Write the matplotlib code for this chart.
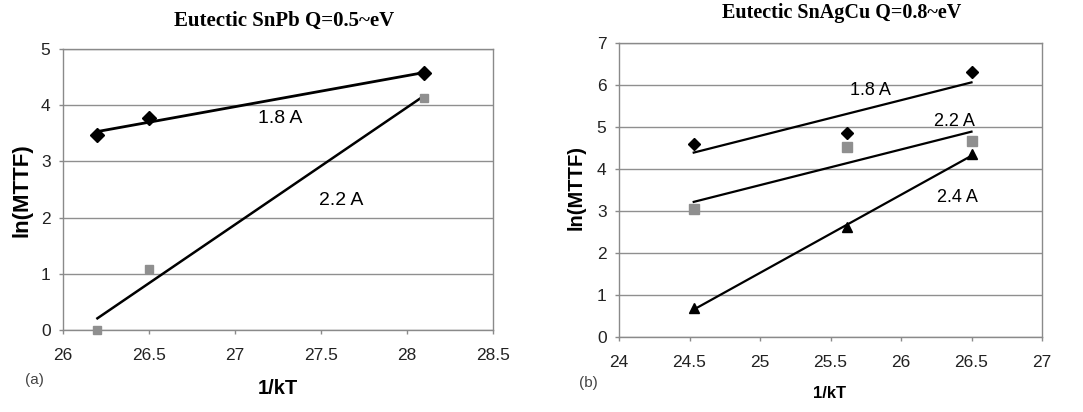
import numpy as np
import matplotlib
matplotlib.use("Agg")
import matplotlib.pyplot as plt

# ---- data ----
snpb_x = [26.2, 26.5, 28.1]
snpb_18 = [3.47, 3.77, 4.57]
snpb_22 = [0.0, 1.08, 4.13]

sac_x = [24.53, 25.62, 26.5]
sac_18 = [4.60, 4.87, 6.32]
sac_22 = [3.05, 4.54, 4.68]
sac_24 = [0.69, 2.62, 4.36]

left_xticks = [26, 26.5, 27, 27.5, 28, 28.5]
left_xticklabels = ["26", "26.5", "27", "27.5", "28", "28.5"]
left_yticks = [0, 1, 2, 3, 4, 5]
right_xticks = [24, 24.5, 25, 25.5, 26, 26.5, 27]
right_xticklabels = ["24", "24.5", "25", "25.5", "26", "26.5", "27"]
right_yticks = [0, 1, 2, 3, 4, 5, 6, 7]

title_a = "Eutectic SnPb Q=0.5~eV"
title_b = "Eutectic SnAgCu Q=0.8~eV"

SANS = "Liberation Sans"
SERIF = "Liberation Serif"
GRAY = "#8f8f8f"
SPINE = "#8a8a8a"

fig = plt.figure(figsize=(10.83, 4.12), dpi=100)
W, H = 1083, 412


def style(ax, xlim, ylim, xt, xtl, yt, fs):
    ax.set_xlim(*xlim)
    ax.set_ylim(*ylim)
    ax.set_xticks(xt)
    ax.set_xticklabels(xtl)
    ax.set_yticks(yt)
    ax.set_yticklabels([str(v) for v in yt])
    for s in ax.spines.values():
        s.set_color(SPINE)
        s.set_linewidth(1.0)
    ax.yaxis.grid(True, color=GRAY, linewidth=1.0)
    ax.set_axisbelow(True)
    ax.tick_params(direction="out", length=3, color=SPINE, width=1.0,
                   labelsize=fs, labelcolor="#222222")
    ax.tick_params(axis="x", pad=10)
    ax.tick_params(axis="y", pad=6)
    for lab in ax.get_xticklabels() + ax.get_yticklabels():
        lab.set_family(SANS)


def fit_line(ax, x, y, lw):
    p = np.polyfit(x, y, 1)
    xs = np.array([x[0], x[-1]])
    ax.plot(xs, np.polyval(p, xs), color="black", lw=lw, zorder=3)


# ---- left panel ----
axa = fig.add_axes([63 / W, 1 - 330 / H, (493 - 63) / W, (330 - 49) / H])
style(axa, (26, 28.5), (0, 5), left_xticks, left_xticklabels, left_yticks, 12.5)
fit_line(axa, snpb_x, snpb_18, 2.0)
fit_line(axa, snpb_x, snpb_22, 1.8)
axa.plot(snpb_x, snpb_18, "D", color="black", ms=7, zorder=4, clip_on=False)
axa.plot(snpb_x, snpb_22, "s", color=GRAY, ms=6, zorder=4, clip_on=False)
axa.text(27.26, 3.77, "1.8 A", ha="center", va="center", fontsize=14, family=SANS)
axa.text(27.62, 2.31, "2.2 A", ha="center", va="center", fontsize=14, family=SANS)

# ---- right panel ----
axb = fig.add_axes([619 / W, 1 - 337.3 / H, (1042 - 619) / W, (337.3 - 43.3) / H])
style(axb, (24, 27), (0, 7), right_xticks, right_xticklabels, right_yticks, 12.5)
fit_line(axb, sac_x, sac_18, 1.6)
fit_line(axb, sac_x, sac_22, 1.6)
fit_line(axb, sac_x, sac_24, 1.6)
axb.plot(sac_x, sac_18, "D", color="black", ms=6, zorder=4)
axb.plot(sac_x, sac_22, "s", color=GRAY, ms=7, zorder=4)
axb.plot(sac_x, sac_24, "^", color="black", ms=7, zorder=4)
axb.text(25.78, 5.87, "1.8 A", ha="center", va="center", fontsize=13, family=SANS)
axb.text(26.38, 5.13, "2.2 A", ha="center", va="center", fontsize=13, family=SANS)
axb.text(26.40, 3.33, "2.4 A", ha="center", va="center", fontsize=13, family=SANS)

# ---- titles, axis labels, panel tags ----
def ftext(x, y, s, **kw):
    fig.text(x / W, 1 - y / H, s, **kw)

ftext(284, 21, title_a, ha="center", va="center", fontsize=15,
      fontweight="bold", family=SERIF)
ftext(842, 13, title_b, ha="center", va="center", fontsize=14.5,
      fontweight="bold", family=SERIF)
ftext(278, 388, "1/kT", ha="center", va="center", fontsize=14.5,
      fontweight="bold", family=SANS)
ftext(829, 393, "1/kT", ha="center", va="center", fontsize=12,
      fontweight="bold", family=SANS)
ftext(22, 190, "ln(MTTF)", ha="center", va="center", fontsize=16,
      fontweight="bold", family=SANS, rotation=90)
ftext(576, 188, "ln(MTTF)", ha="center", va="center", fontsize=14.5,
      fontweight="bold", family=SANS, rotation=90)
ftext(34, 380, "(a)", ha="center", va="center", fontsize=11,
      family=SANS, color="#444444")
ftext(588, 383, "(b)", ha="center", va="center", fontsize=11,
      family=SANS, color="#444444")

fig.savefig("out.png", dpi=100, facecolor="white")
